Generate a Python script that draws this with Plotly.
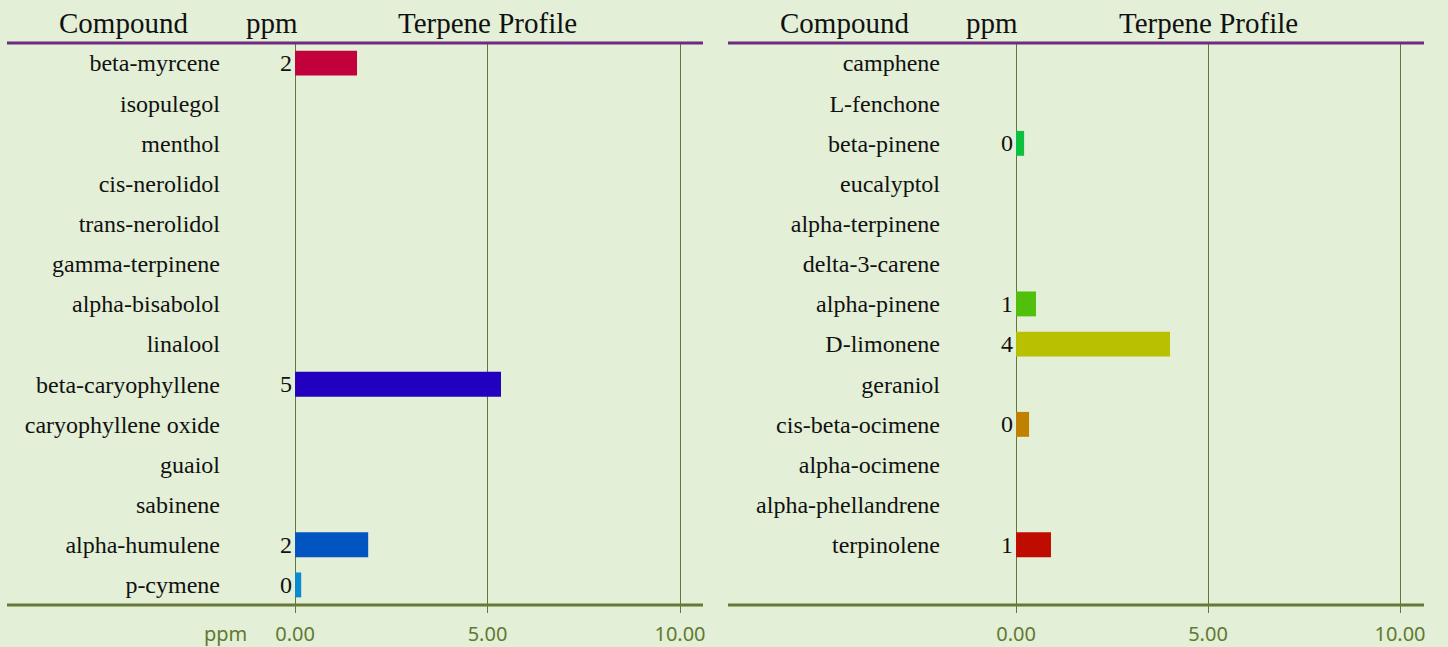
import plotly.graph_objects as go
from plotly.subplots import make_subplots

left_compounds = ["beta-myrcene", "isopulegol", "menthol", "cis-nerolidol", "trans-nerolidol",
                  "gamma-terpinene", "alpha-bisabolol", "linalool", "beta-caryophyllene",
                  "caryophyllene oxide", "guaiol", "sabinene", "alpha-humulene", "p-cymene"]
left_values = [1.61, None, None, None, None, None, None, None, 5.35, None, None, None, 1.90, 0.16]
left_colors = ["#c2003c", None, None, None, None, None, None, None, "#2200c0", None, None, None, "#0055c0", "#0a8ad0"]

right_compounds = ["camphene", "L-fenchone", "beta-pinene", "eucalyptol", "alpha-terpinene",
                   "delta-3-carene", "alpha-pinene", "D-limonene", "geraniol", "cis-beta-ocimene",
                   "alpha-ocimene", "alpha-phellandrene", "terpinolene"]
right_values = [None, None, 0.21, None, None, None, 0.52, 4.01, None, 0.34, None, None, 0.91]
right_colors = [None, None, "#0cc040", None, None, None, "#50c00c", "#b8c000", None, "#c08000", None, None, "#c00c00"]

x_ticks = [0, 5, 10]
n_slots = 14

W, H = 1448, 647
SERIF = "Liberation Serif"
OLIVE = "#5f7a32"
PURPLE = "#6e2a82"

fig = make_subplots(rows=1, cols=2)

def add_panel(col, names, vals, colors):
    xs = [v for v in vals if v is not None]
    ys = [n for n, v in zip(names, vals) if v is not None]
    cs = [c for c, v in zip(colors, vals) if v is not None]
    fig.add_trace(go.Bar(x=xs, y=ys, orientation="h", marker=dict(color=cs, line=dict(width=0)),
                         width=0.62, showlegend=False, hoverinfo="x+y"), row=1, col=col)
    xref = "x" if col == 1 else "x2"
    yref = "y" if col == 1 else "y2"
    for v, n in zip(xs, ys):
        fig.add_annotation(x=0, y=n, xref=xref, yref=yref, text=f"{round(v):d}",
                           xanchor="right", yanchor="middle", xshift=-1, showarrow=False,
                           font=dict(family=SERIF, size=24, color="#111"))

add_panel(1, left_compounds, left_values, left_colors)
add_panel(2, right_compounds, right_values, right_colors)

y_top = 43
y_bot = 605
ydom = [1 - y_bot / H, 1 - y_top / H]

panels = [
    dict(x0=295, x1=703, line0=7, line1=703, names=left_compounds, comp=123, ppm=272, prof=487, lab=221),
    dict(x0=1016, x1=1424, line0=728, line1=1424, names=right_compounds, comp=844, ppm=992, prof=1208, lab=941),
]

for i, p in enumerate(panels):
    ax = "" if i == 0 else "2"
    px_per_unit = (680 - 295) / 10.0 if i == 0 else (1400 - 1016) / 10.0
    xmax = (p["x1"] - p["x0"]) / px_per_unit
    fig.layout["xaxis" + ax].update(
        domain=[p["x0"] / W, p["x1"] / W], range=[-0.001, xmax], automargin=False,
        tickvals=x_ticks, tickformat=".2f", showgrid=True, gridcolor=OLIVE, gridwidth=1,
        zeroline=True, zerolinecolor=OLIVE, zerolinewidth=1,
        ticks="outside", ticklen=7, tickcolor=OLIVE, tickwidth=1, ticklabelstandoff=4,
        tickfont=dict(family="Noto Sans", size=20, color=OLIVE), showline=False, fixedrange=True,
    )
    fig.layout["yaxis" + ax].update(
        domain=ydom, categoryorder="array", categoryarray=p["names"], automargin=False,
        tickvals=p["names"], range=[n_slots - 0.5, -0.5], showgrid=False, zeroline=False,
        ticks="", ticklabelstandoff=p["x0"] - p["lab"],
        tickfont=dict(family=SERIF, size=24, color="#111"), fixedrange=True,
    )
    fig.add_shape(type="line", xref="paper", yref="paper", x0=p["line0"] / W, x1=p["line1"] / W,
                  y0=1 - y_top / H, y1=1 - y_top / H, line=dict(color=PURPLE, width=3))
    fig.add_shape(type="line", xref="paper", yref="paper", x0=p["line0"] / W, x1=p["line1"] / W,
                  y0=1 - y_bot / H, y1=1 - y_bot / H, line=dict(color="#667a36", width=3))
    for txt, cx in [("Compound", p["comp"]), ("ppm", p["ppm"]), ("Terpene Profile", p["prof"])]:
        fig.add_annotation(text=txt, xref="paper", yref="paper", x=cx / W, y=1 - 23 / H,
                           xanchor="center", yanchor="middle", showarrow=False,
                           font=dict(family=SERIF, size=29, color="#111"))

fig.add_annotation(text="ppm", xref="paper", yref="paper", x=226 / W, y=1 - 633 / H,
                   xanchor="center", yanchor="middle", showarrow=False,
                   font=dict(family="Noto Sans", size=20, color=OLIVE))

fig.update_layout(
    width=W, height=H, margin=dict(l=0, r=0, t=0, b=0),
    paper_bgcolor="#e3efd6", plot_bgcolor="rgba(0,0,0,0)", bargap=0.38,
)

fig.write_html("out.html", config={"displayModeBar": False},
               post_script="document.body.style.margin='0';document.body.style.padding='0';document.body.style.overflow='hidden';")
